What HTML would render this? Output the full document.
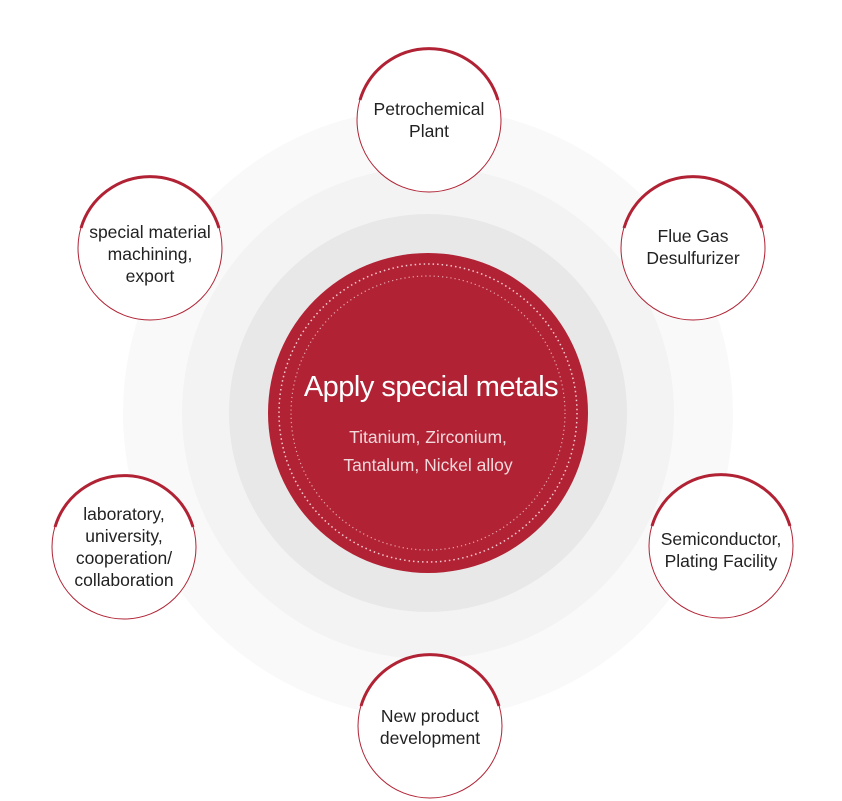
<!DOCTYPE html>
<html><head><meta charset="utf-8"><style>
html,body{margin:0;padding:0;background:#fff;}
svg{display:block;}
text{font-family:"Liberation Sans",sans-serif;}
</style></head><body>
<svg width="842" height="801" viewBox="0 0 842 801" xmlns="http://www.w3.org/2000/svg">
<circle cx="428" cy="413" r="305" fill="#f9f9f9"/>
<circle cx="428" cy="413" r="246" fill="#f3f3f3"/>
<circle cx="428" cy="413" r="199" fill="#e8e8e8"/>
<circle cx="428" cy="413" r="160" fill="#b02234"/>
<circle cx="428" cy="413" r="149" fill="none" stroke="#f4c9cf" stroke-width="1.5" stroke-dasharray="1.5 3"/>
<circle cx="428" cy="413" r="137" fill="none" stroke="#e9a5ae" stroke-width="1.2" stroke-dasharray="1.2 3"/>
<text x="431" y="396" fill="#fff" font-size="29" text-anchor="middle" letter-spacing="-0.5">Apply special metals</text>
<text x="428" y="443" fill="#f0d8db" font-size="17.5" text-anchor="middle">Titanium, Zirconium,</text>
<text x="428" y="471" fill="#f0d8db" font-size="17.5" text-anchor="middle">Tantalum, Nickel alloy</text>

<g fill="#fff" stroke="#b02234" stroke-width="1">
<circle cx="429" cy="120" r="72"/>
<circle cx="693" cy="248" r="72"/>
<circle cx="721" cy="546" r="72"/>
<circle cx="430" cy="726" r="72"/>
<circle cx="124" cy="547" r="72"/>
<circle cx="150" cy="248" r="72"/>
</g>
<g fill="none" stroke="#b02234" stroke-width="3">
<path d="M360,100 A72,72 0 0 1 498,100"/>
<path d="M624,228 A72,72 0 0 1 762,228"/>
<path d="M652,526 A72,72 0 0 1 790,526"/>
<path d="M361,706 A72,72 0 0 1 499,706"/>
<path d="M55,527 A72,72 0 0 1 193,527"/>
<path d="M81,228 A72,72 0 0 1 219,228"/>
</g>
<g fill="#222" font-size="17.5" text-anchor="middle">
<text x="429" y="115">Petrochemical</text>
<text x="429" y="137">Plant</text>
<text x="693" y="242">Flue Gas</text>
<text x="693" y="264">Desulfurizer</text>
<text x="721" y="545">Semiconductor,</text>
<text x="721" y="567">Plating Facility</text>
<text x="430" y="722">New product</text>
<text x="430" y="744">development</text>
<text x="124" y="520">laboratory,</text>
<text x="124" y="542">university,</text>
<text x="124" y="564">cooperation/</text>
<text x="124" y="586">collaboration</text>
<text x="150" y="238">special material</text>
<text x="150" y="260">machining,</text>
<text x="150" y="282">export</text>
</g>
</svg>
</body></html>
